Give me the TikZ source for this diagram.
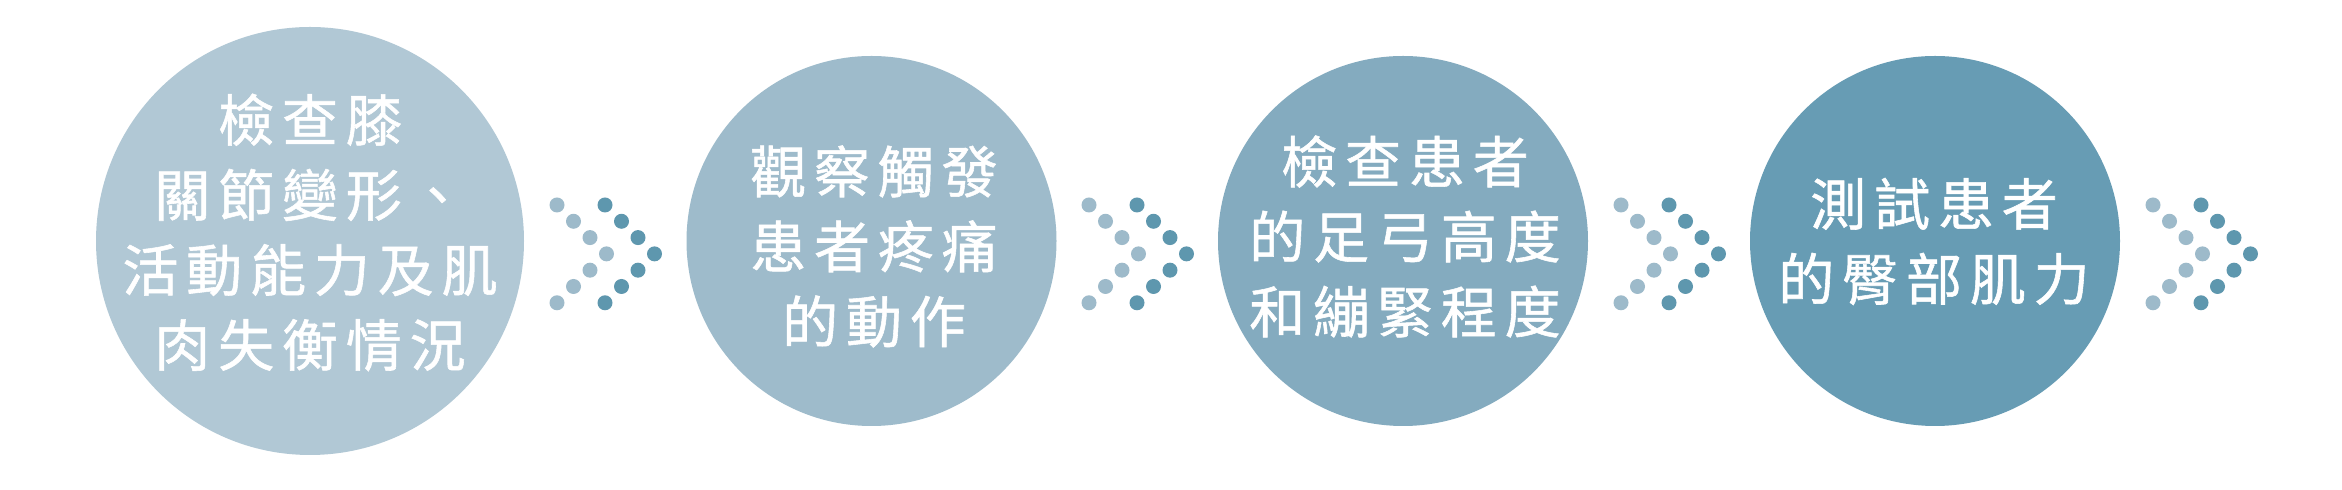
\documentclass[tikz,border=0pt]{standalone}
\usepackage{fontspec}
\newfontfamily\cjk{Noto Sans CJK TC}[LetterSpace=14,FakeBold=1]
\definecolor{cA}{HTML}{B1C8D5}
\definecolor{cB}{HTML}{9EBBCB}
\definecolor{cC}{HTML}{84ABBF}
\definecolor{cD}{HTML}{679CB4}
\definecolor{dotL}{HTML}{9DBACA}
\definecolor{dotD}{HTML}{5E97AE}
\tikzset{
  bigcircle/.style={circle, draw=none, inner sep=0pt},
  lbl/.style={text=white, align=center, inner sep=0pt,
    font=\cjk\fontsize{28}{37.5}\selectfont},
  ldot/.style={fill=dotL},
  ddot/.style={fill=dotD}
}
\begin{document}
\begin{tikzpicture}[x=0.5pt,y=-0.5pt]
\useasboundingbox (0,0) rectangle (2342,490);
\fill[white] (0,0) rectangle (2342,490);
\node[bigcircle, fill=cA, minimum size=214pt] (c1) at (310,241) {};
\node[bigcircle, fill=cB, minimum size=185pt] (c2) at (871.5,241) {};
\node[bigcircle, fill=cC, minimum size=185pt] (c3) at (1403,241) {};
\node[bigcircle, fill=cD, minimum size=185pt] (c4) at (1935,241) {};
\node[lbl] (t1) at (310,232.5) {檢查膝\\關節變形、\\活動能力及肌\\肉失衡情況};
\node[lbl] (t2) at (874,246.5) {觀察觸發\\患者疼痛\\的動作};
\node[lbl] (t3) at (1405,236.5) {檢查患者\\的足弓高度\\和繃緊程度};
\node[lbl] (t4) at (1934,241.5) {測試患者\\的臀部肌力};
\foreach \ax in {557,1089,1621,2153}{
  \foreach \i/\k in {0/0,1/1,2/2,3/3,4/2,5/1,6/0}{
    \fill[ldot] (\ax+16.5*\k, 205+16.3*\i) circle[radius=3.75pt];
    \fill[ddot] (\ax+48+16.5*\k, 205+16.3*\i) circle[radius=3.75pt];
  }
}
\end{tikzpicture}
\end{document}
